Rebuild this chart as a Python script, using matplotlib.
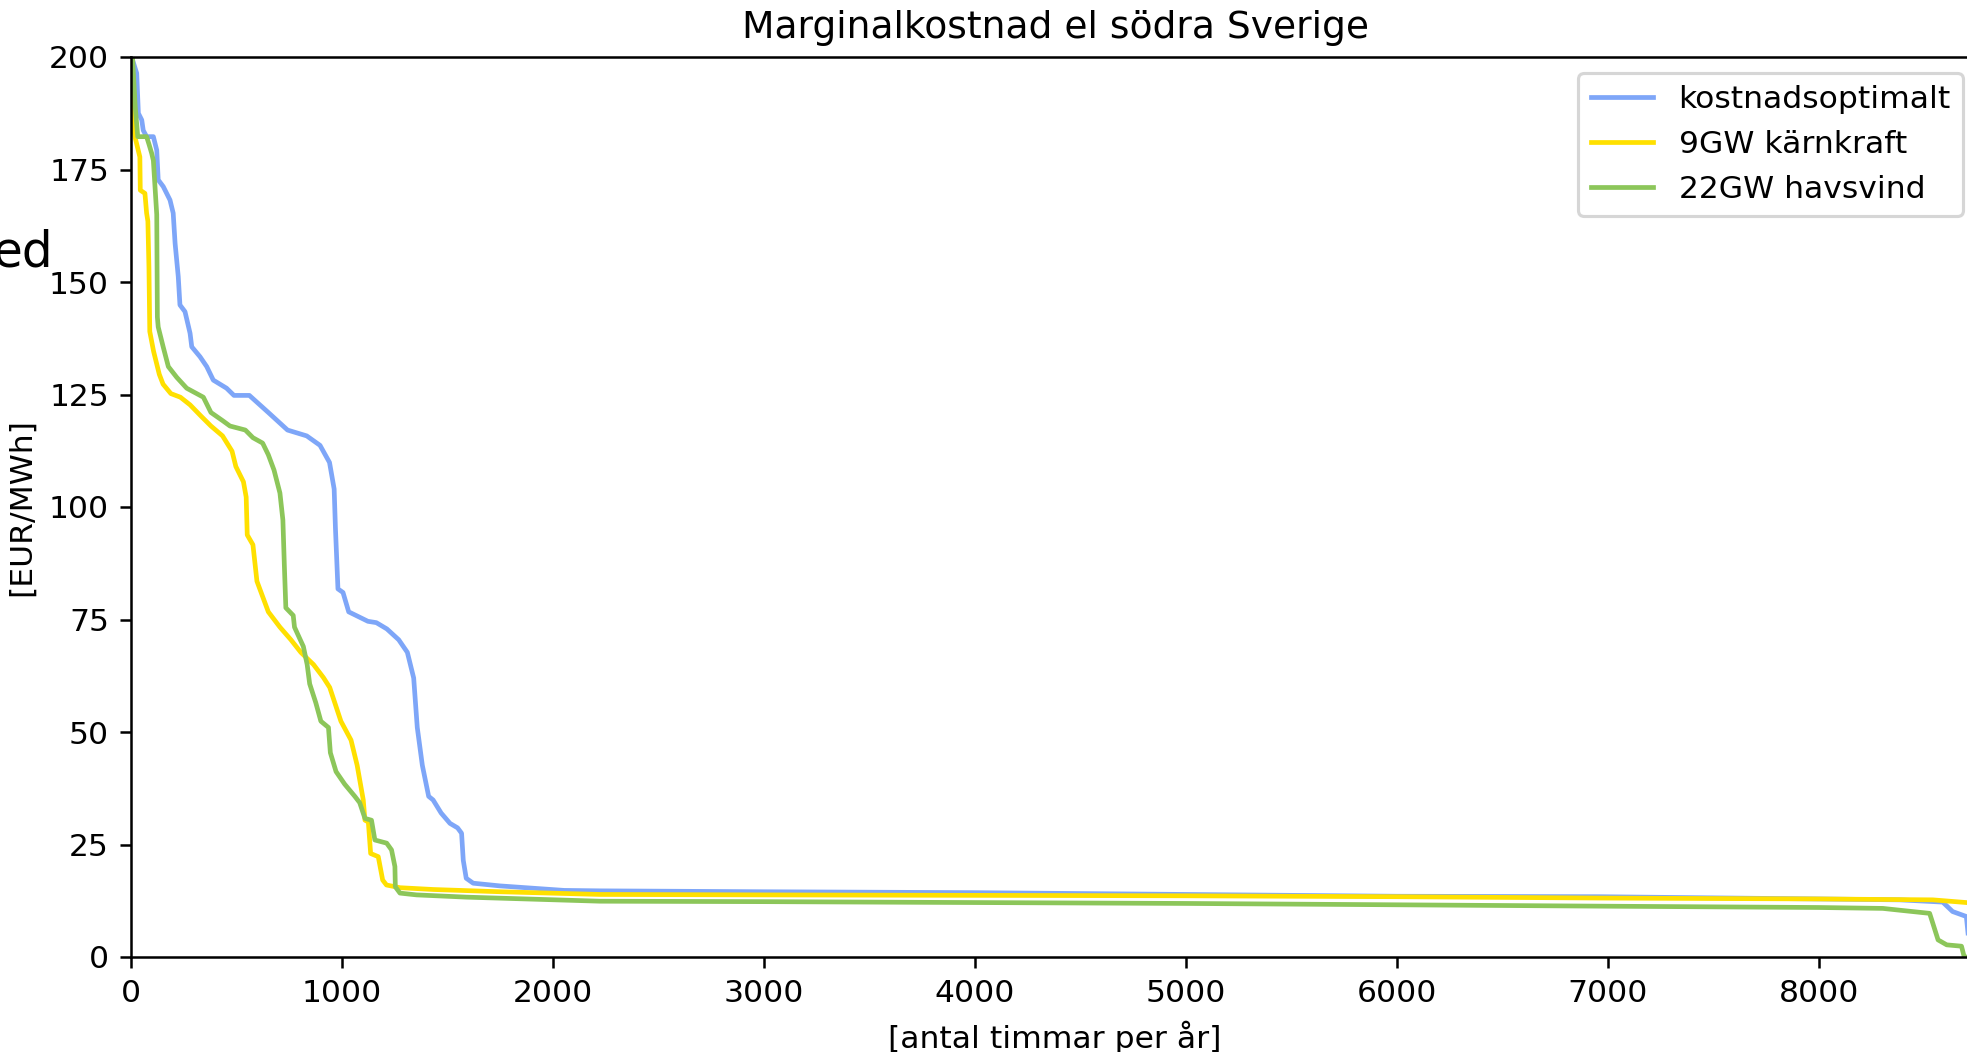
import matplotlib
matplotlib.use("Agg")
import matplotlib.pyplot as plt

# värden avlästa ur referensbilden (varaktighetskurvor)
opt_h = [0, 3, 27, 35, 51, 58, 74, 106, 122, 129, 153, 185, 200, 209, 224,
         232, 256, 280, 288, 327, 359, 390, 453, 488, 561, 651, 742, 833,
         896, 941, 963, 969, 981, 1005, 1032, 1123, 1163, 1213, 1269, 1310,
         1340, 1357, 1381, 1411, 1432, 1470, 1512, 1548, 1567, 1575, 1589,
         1622, 1749, 2053, 2223, 3000, 4000, 5000, 6000, 6962, 8000, 8384,
         8588, 8635, 8700, 8715, 8760]
opt_v = [215, 200, 196.4, 187.5, 186, 183.7, 182.3, 182.3, 179.3, 172.7,
         171.2, 168.2, 165.3, 158.6, 151.2, 144.9, 143.4, 138.6, 135.6, 133.4,
         131.2, 128.2, 126.4, 124.8, 124.8, 121, 117.1, 115.8, 113.7, 109.9,
         104, 95.4, 81.8, 81, 76.7, 74.6, 74.3, 72.9, 70.5, 67.7, 62, 51,
         42.6, 35.7, 34.9, 32, 29.7, 28.7, 27.5, 21.5, 17.5, 16.4, 15.8, 14.8,
         14.7, 14.5, 14.3, 13.9, 13.5, 13.4, 12.9, 12.7, 12.2, 10.1, 9, 2, 0]

karn_h = [0, 11, 13, 19, 42, 44, 66, 74, 80, 85, 89, 107, 134, 152, 189,
          234, 280, 334, 379, 434, 479, 497, 533, 546, 551, 578, 597, 624,
          651, 706, 758, 805, 865, 912, 942, 995, 1043, 1072, 1101, 1109,
          1125, 1136, 1172, 1193, 1211, 1275, 1433, 1749, 2223, 3000, 4000,
          5000, 6000, 6962, 8000, 8541, 8700, 8760]
karn_v = [192, 188, 183.7, 182.2, 177.8, 170.4, 169.7, 165.3, 163.5, 153.3,
          139, 134.6, 129.5, 127.3, 125.2, 124.4, 122.7, 120.1, 118, 115.8,
          112.4, 109, 105.6, 102.2, 93.8, 91.6, 83.5, 80.1, 76.7, 73.3, 70.5,
          67.7, 65, 62.1, 59.9, 52.4, 48.2, 42.6, 34.9, 30.4, 30, 23, 22.3,
          17.1, 16.0, 15.4, 15.0, 14.5, 13.9, 13.8, 13.7, 13.6, 13.4, 13.1,
          12.9, 12.7, 12.1, 11.8]

vind_h = [0, 7, 20, 32, 74, 86, 98, 106, 122, 125, 129, 153, 177, 217, 264,
          343, 379, 434, 469, 542, 578, 624, 651, 678, 706, 720, 727, 734,
          769, 775, 817, 835, 847, 876, 900, 936, 945, 972, 1013, 1061, 1084,
          1109, 1140, 1156, 1212, 1235, 1251, 1253, 1275, 1354, 1591, 2223,
          3000, 4000, 5000, 6000, 6962, 8000, 8304, 8384, 8526, 8541, 8566,
          8607, 8677, 8690, 8760]
vind_v = [215, 200, 189, 182.3, 182.3, 180.5, 178.6, 177, 165, 142.2, 140,
          135.5, 131.2, 128.8, 126.4, 124.4, 121, 119.2, 118, 117.1, 115.4,
          114.2, 111.6, 108.2, 103.1, 97.1, 86.9, 77.6, 75.9, 73.3, 69, 65,
          60.7, 56.5, 52.4, 51, 45.4, 41.2, 38.4, 35.7, 34.3, 30.8, 30.4, 26,
          25.3, 23.8, 20.1, 15.6, 14.2, 13.8, 13.3, 12.4, 12.3, 12.1, 11.9,
          11.6, 11.3, 11.0, 10.8, 10.4, 9.7, 7.5, 3.8, 2.7, 2.4, 0, 0]

DPI = 226
fig = plt.figure(figsize=(1967 / DPI, 1052 / DPI), dpi=DPI)
ax = fig.add_axes([131 / 1967, 95 / 1052, 1848 / 1967, 900 / 1052])

ax.plot(opt_h, opt_v, color="#7ea6f8", label="kostnadsoptimalt")
ax.plot(karn_h, karn_v, color="#ffe000", label="9GW kärnkraft")
ax.plot(vind_h, vind_v, color="#8cc65a", label="22GW havsvind")

ax.set_xlim(0, 8760)
ax.set_ylim(0, 200)
ax.set_title("Marginalkostnad el södra Sverige")
ax.set_xlabel("[antal timmar per år]")
ax.set_ylabel("[EUR/MWh]")
ax.legend(loc="upper right")

# avklippt text i vänsterkanten
fig.text(53 / 1967, 1 - 267 / 1052, "ed", ha="right", va="baseline",
         fontsize=15.5)

fig.savefig("out.png", dpi=DPI)
